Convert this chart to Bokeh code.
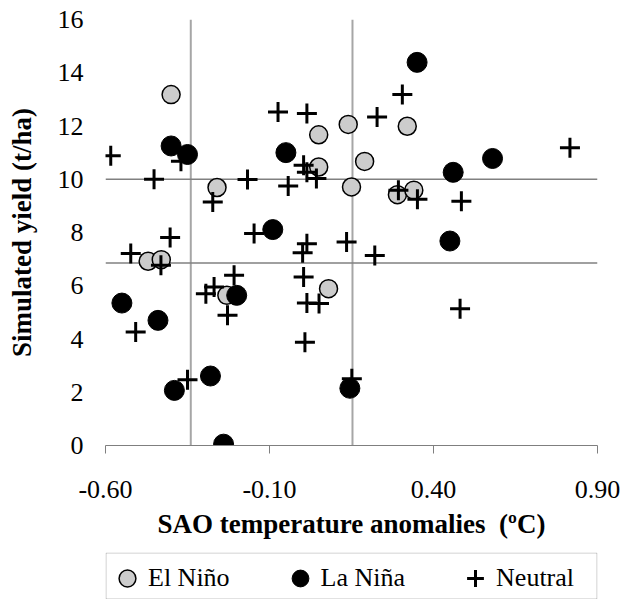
from bokeh.plotting import figure
from bokeh.models import Span, Legend, LegendItem, FixedTicker, Range1d, BoxAnnotation
from bokeh.layouts import column
from bokeh.embed import file_html
from bokeh.resources import INLINE

# ---- data ----
el_nino_x = [-0.40, 0.14, 0.32, 0.05, 0.19, 0.05, -0.26, 0.15, 0.29, 0.34, -0.47, -0.43, -0.23, 0.08]
el_nino_y = [13.18, 12.06, 11.99, 11.67, 10.67, 10.46, 9.69, 9.71, 9.42, 9.59, 6.92, 6.98, 5.64, 5.89]

la_nina_x = [0.35, -0.40, -0.35, -0.05, 0.58, 0.46, -0.09, 0.45, -0.55, -0.44, -0.20, -0.39, -0.28, 0.145, -0.24]
la_nina_y = [14.39, 11.25, 10.93, 11.00, 10.78, 10.26, 8.11, 7.68, 5.35, 4.70, 5.64, 2.07, 2.61, 2.15, 0.05]

neutral_x = [-0.584, -0.452, -0.370, -0.273, -0.167, -0.074, -0.043, 0.014, 0.004, 0.014, 0.043,
             0.305, 0.228, 0.816, 0.293, 0.351, 0.485, -0.147, -0.403, -0.523, -0.431, 0.014,
             0.001, 0.135, 0.221, -0.208, -0.269, -0.294, -0.228, 0.004, 0.014, 0.051, 0.008,
             0.481, -0.508, -0.350, 0.151]
neutral_y = [10.88, 10.00, 10.68, 9.15, 9.99, 12.53, 9.75, 12.47, 10.53, 10.26, 10.03,
             13.18, 12.34, 11.18, 9.59, 9.25, 9.17, 7.96, 7.81, 7.21, 6.77, 7.58,
             7.24, 7.64, 7.14, 6.39, 5.95, 5.70, 4.89, 6.33, 5.35, 5.33, 3.88,
             5.14, 4.26, 2.47, 2.51]

series_labels = ["El Niño", "La Niña", "Neutral"]

x_ticks = [-0.60, -0.10, 0.40, 0.90]
x_tick_labels = ["-0.60", "-0.10", "0.40", "0.90"]
y_ticks = [0, 2, 4, 6, 8, 10, 12, 14, 16]

vertical_refs = [-0.34, 0.153]   # SAO thresholds
horizontal_refs = [10.0, 6.85]   # yield thresholds

FONT = "Liberation Serif"
EL_STYLE = dict(marker="circle", fill_color="#cccccc", line_color="black", line_width=1.5)
LA_STYLE = dict(marker="circle", fill_color="black", line_color="black", line_width=1)
NE_STYLE = dict(marker="cross", line_color="black", line_width=3)

p = figure(width=621, height=552, output_backend="svg", toolbar_location=None,
           x_range=Range1d(-0.6, 0.9), y_range=Range1d(0, 16),
           min_border_left=105, min_border_right=24, min_border_top=19,
           min_border_bottom=107)
p.outline_line_color = None
p.xgrid.visible = False
p.ygrid.visible = False
p.background_fill_color = "white"
p.border_fill_color = "white"

for v in vertical_refs:
    p.add_layout(Span(location=v, dimension="height", line_color="#a6a6a6",
                      line_width=2, level="underlay"))
for h in horizontal_refs:
    p.add_layout(Span(location=h, dimension="width", line_color="#808080",
                      line_width=1.5, level="underlay"))

p.scatter(el_nino_x, el_nino_y, size=18, **EL_STYLE)
p.scatter(neutral_x, neutral_y, size=20, **NE_STYLE)
p.scatter(la_nina_x, la_nina_y, size=20, **LA_STYLE)

# x axis
xa = p.xaxis[0]
xa.ticker = FixedTicker(ticks=x_ticks)
xa.major_label_overrides = {t: l for t, l in zip(x_ticks, x_tick_labels)}
xa.axis_line_color = "#7f7f7f"
xa.axis_line_width = 1
xa.major_tick_line_color = "#7f7f7f"
xa.major_tick_in = 0
xa.major_tick_out = 8
xa.minor_tick_line_color = None
xa.major_label_text_font = FONT
xa.major_label_text_font_size = "26px"
xa.major_label_text_color = "black"
xa.major_label_standoff = 27
xa.axis_label = "SAO temperature anomalies\u00a0 (ºC)"
xa.axis_label_text_font = FONT
xa.axis_label_text_font_size = "27px"
xa.axis_label_text_font_style = "bold"
xa.axis_label_text_color = "black"
xa.axis_label_standoff = 8

# y axis
ya = p.yaxis[0]
ya.ticker = FixedTicker(ticks=y_ticks)
ya.axis_line_color = None
ya.major_tick_line_color = None
ya.major_tick_in = 0
ya.major_tick_out = 0
ya.minor_tick_line_color = None
ya.major_label_text_font = FONT
ya.major_label_text_font_size = "26px"
ya.major_label_text_color = "black"
ya.major_label_standoff = 22
ya.axis_label = "Simulated yield (t/ha)"
ya.axis_label_text_font = FONT
ya.axis_label_text_font_size = "27px"
ya.axis_label_text_font_style = "bold"
ya.axis_label_text_color = "black"
ya.axis_label_standoff = 18

# ---- legend strip below the chart (frame aligned with the chart frame) ----
lg = figure(width=621, height=47, output_backend="svg", toolbar_location=None,
            x_range=Range1d(105, 597), y_range=Range1d(0, 47),
            x_axis_location=None, y_axis_location=None,
            min_border_left=105, min_border_right=24, min_border_top=0,
            min_border_bottom=0)
lg.outline_line_color = None
lg.grid.visible = False
lg.background_fill_color = "white"
lg.border_fill_color = "white"

# hidden copies of the series, used only to draw the legend swatches
d_el = lg.scatter(el_nino_x, el_nino_y, visible=False, **EL_STYLE)
d_la = lg.scatter(la_nina_x, la_nina_y, visible=False, **LA_STYLE)
d_ne = lg.scatter(neutral_x, neutral_y, visible=False, **NE_STYLE)

# legend frame box
lg.add_layout(BoxAnnotation(left=105.5, right=596.5, bottom=0.5, top=46.5,
                            fill_color=None, fill_alpha=0,
                            line_color="#404040", line_width=1))

legend = Legend(items=[LegendItem(label=series_labels[0], renderers=[d_el]),
                       LegendItem(label=series_labels[1], renderers=[d_la]),
                       LegendItem(label=series_labels[2], renderers=[d_ne])],
                orientation="horizontal", location=(1, 0))
legend.label_text_font = FONT
legend.label_text_font_size = "26px"
legend.label_text_color = "black"
legend.glyph_width = 42
legend.glyph_height = 42
legend.label_standoff = 0
legend.spacing = 49
legend.border_line_color = None
legend.background_fill_alpha = 0
legend.margin = 0
legend.padding = 2
lg.add_layout(legend, "center")

open("out.html", "w").write(file_html(column(p, lg, spacing=0), INLINE))
